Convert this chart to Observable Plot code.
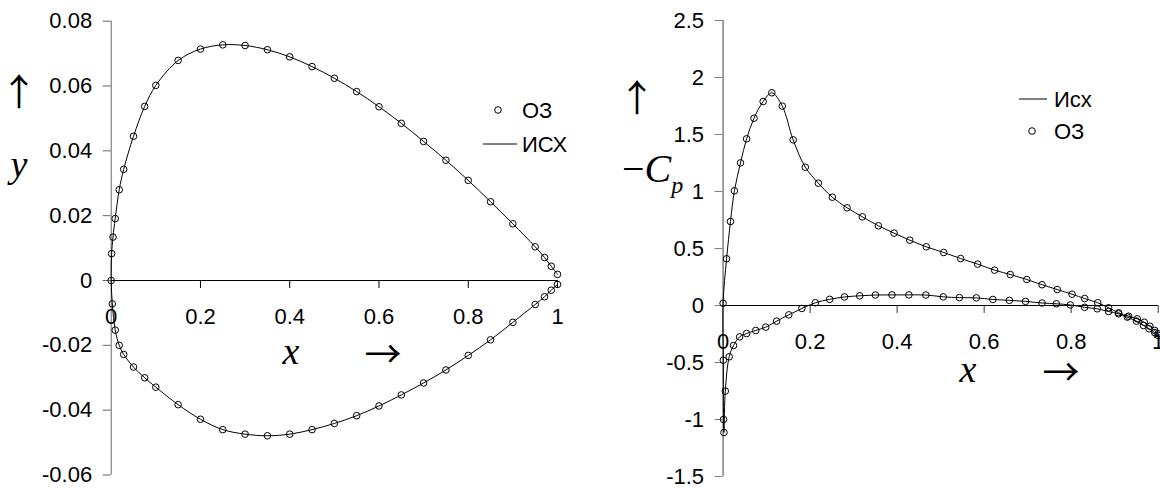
<!DOCTYPE html>
<html>
<head>
<meta charset="utf-8">
<script src="https://cdn.jsdelivr.net/npm/d3@7"></script>
<script src="https://cdn.jsdelivr.net/npm/@observablehq/plot@0.6"></script>
<style>
  html, body { margin: 0; padding: 0; background: #fff; }
  #wrap { position: relative; width: 1160px; height: 488px; overflow: hidden; background: #fff; }
  #wrap > svg, #wrap > figure { position: absolute; top: 0; margin: 0; }
</style>
</head>
<body>
<div id="wrap"></div>
<script>
// ---------- Left chart: airfoil contour (y vs x) ----------
const foilUpperX = [0, 0.001, 0.004, 0.009, 0.018, 0.028, 0.05, 0.075, 0.1, 0.15, 0.2, 0.25, 0.3, 0.35, 0.4, 0.45, 0.5, 0.55, 0.6, 0.65, 0.7, 0.75, 0.8, 0.85, 0.9, 0.95, 0.971, 0.986, 1.0];
const foilUpperY = [0, 0.0083, 0.0134, 0.0191, 0.0280, 0.0343, 0.0445, 0.0537, 0.0602, 0.0679, 0.0714, 0.0727, 0.0725, 0.0712, 0.0690, 0.0660, 0.0624, 0.0583, 0.0536, 0.0485, 0.0429, 0.0371, 0.0309, 0.0243, 0.0175, 0.0104, 0.0071, 0.0044, 0.0019];
const foilLowerX = [0.0025, 0.009, 0.018, 0.028, 0.05, 0.075, 0.1, 0.15, 0.2, 0.25, 0.3, 0.35, 0.4, 0.45, 0.5, 0.55, 0.6, 0.65, 0.7, 0.75, 0.8, 0.85, 0.9, 0.95, 0.971, 0.986, 1.0];
const foilLowerY = [-0.0072, -0.0153, -0.0200, -0.0228, -0.0267, -0.0300, -0.0329, -0.0383, -0.0428, -0.0460, -0.0474, -0.0479, -0.0474, -0.0460, -0.0441, -0.0417, -0.0387, -0.0353, -0.0316, -0.0276, -0.0231, -0.0183, -0.0129, -0.0074, -0.0050, -0.0030, -0.0012];
const leftXTicks = [0, 0.2, 0.4, 0.6, 0.8, 1];
const leftYTicks = [-0.06, -0.04, -0.02, 0, 0.02, 0.04, 0.06, 0.08];

// ---------- Right chart: -Cp vs x ----------
const cpUpperX = [0, 0.008, 0.017, 0.026, 0.040, 0.054, 0.071, 0.092, 0.112, 0.136, 0.161, 0.189, 0.219, 0.251, 0.285, 0.320, 0.357, 0.393, 0.429, 0.467, 0.507, 0.546, 0.585, 0.624, 0.660, 0.698, 0.733, 0.768, 0.802, 0.831, 0.861, 0.886, 0.909, 0.932, 0.952, 0.968, 0.981, 0.992, 1.0];
const cpUpperY = [0.02, 0.41, 0.737, 1.006, 1.251, 1.462, 1.643, 1.789, 1.866, 1.749, 1.453, 1.213, 1.073, 0.950, 0.857, 0.778, 0.699, 0.635, 0.573, 0.515, 0.465, 0.412, 0.363, 0.310, 0.272, 0.228, 0.182, 0.140, 0.099, 0.061, 0.024, -0.020, -0.064, -0.094, -0.117, -0.147, -0.182, -0.219, -0.248];
const cpLowerX = [0.0005, 0.001, 0.002, 0.005, 0.014, 0.024, 0.038, 0.054, 0.075, 0.098, 0.123, 0.151, 0.181, 0.212, 0.245, 0.279, 0.314, 0.350, 0.388, 0.427, 0.466, 0.506, 0.543, 0.582, 0.620, 0.658, 0.695, 0.733, 0.766, 0.798, 0.831, 0.860, 0.886, 0.909, 0.929, 0.950, 0.966, 0.979, 0.992, 1.0];
const cpLowerY = [-0.48, -1.0, -1.114, -0.751, -0.45, -0.351, -0.275, -0.246, -0.219, -0.19, -0.137, -0.082, -0.026, 0.024, 0.054, 0.075, 0.085, 0.092, 0.093, 0.093, 0.092, 0.076, 0.069, 0.067, 0.053, 0.045, 0.036, 0.022, 0.015, 0.005, -0.016, -0.029, -0.053, -0.073, -0.102, -0.137, -0.175, -0.204, -0.238, -0.263];
const rightXTicks = [0, 0.2, 0.4, 0.6, 0.8, 1];
const rightYTicks = [-1.5, -1, -0.5, 0, 0.5, 1, 1.5, 2, 2.5];

const legendLeft = ["ОЗ", "ИСХ"];
const legendRight = ["Исх", "ОЗ"];

// ---------- helpers ----------
const fmt = d => String(+d.toFixed(3));
const zip = (xs, ys) => xs.map((x, i) => ({x, y: ys[i]}));
const contour = (ux, uy, lx, ly) => zip(ux, uy).reverse().concat(zip(lx, ly));

const FONT = "'Liberation Sans', Arial, sans-serif";
const wrap = document.getElementById("wrap");

function chart({yDomain, yTicks, xTicks, line, points, ml, mr, mt, mb, yAxisColor, yAxisWidth, xTickColor}) {
  return Plot.plot({
    width: 580, height: 488,
    marginLeft: ml, marginRight: mr, marginTop: mt, marginBottom: mb,
    x: {domain: [0, 1], axis: null},
    y: {domain: yDomain, axis: null},
    style: {fontFamily: FONT, fontSize: "22px", background: "transparent", overflow: "visible", color: "black"},
    marks: [
      Plot.ruleX([0], {y1: yDomain[0], y2: yDomain[1], stroke: yAxisColor, strokeWidth: yAxisWidth}),
      Plot.axisY(yTicks, {anchor: "left", label: null, tickSize: 8, tickPadding: 11, tickFormat: fmt, stroke: yAxisColor, fill: "black", fontSize: 22}),
      Plot.ruleY([0], {x1: 0, x2: 1, stroke: "black", strokeWidth: 1.2}),
      Plot.ruleX(xTicks.filter(d => d > 0), {x: d => d, y1: 0, y2: 0, insetBottom: -8, stroke: xTickColor}),
      Plot.text(xTicks, {x: d => d, y: 0, dy: 36, text: fmt, fontSize: 22, fill: "black"}),
      Plot.line(line, {x: "x", y: "y", curve: "catmull-rom", stroke: "black", strokeWidth: 1}),
      Plot.dot(points, {x: "x", y: "y", r: 3.3, stroke: "black", fill: "none", strokeWidth: 1})
    ]
  });
}

const leftLine = contour(foilUpperX, foilUpperY, foilLowerX, foilLowerY);
const left = chart({
  yDomain: [-0.06, 0.08], yTicks: leftYTicks, xTicks: leftXTicks,
  line: leftLine, points: leftLine,
  ml: 110.7, mr: 23, mt: 20.7, mb: 13.5,
  yAxisColor: "#666", yAxisWidth: 1, xTickColor: "black"
});
left.style.left = "0px";
wrap.appendChild(left);

const rightLine = contour(cpUpperX, cpUpperY, cpLowerX, cpLowerY);
const right = chart({
  yDomain: [-1.5, 2.5], yTicks: rightYTicks, xTicks: rightXTicks,
  line: rightLine, points: rightLine,
  ml: 142.6, mr: 2.3, mt: 20, mb: 12,
  yAxisColor: "#808080", yAxisWidth: 1.5, xTickColor: "#333"
});
right.style.left = "580px";
wrap.appendChild(right);

// ---------- titles and legends overlay ----------
const ov = d3.select(wrap).append("svg")
  .attr("width", 1160).attr("height", 488)
  .style("position", "absolute").style("left", "0px").style("top", "0px")
  .style("pointer-events", "none");

const SERIF = "'Liberation Serif', 'Times New Roman', 'DejaVu Serif', serif";
const ARROW = "'Noto Sans CJK SC', 'Noto Sans CJK JP', 'DejaVu Serif', serif";
function t(x, y, s, o = {}) {
  return ov.append("text").attr("x", x).attr("y", y).text(s)
    .attr("font-family", o.family || SERIF)
    .attr("font-size", o.size || 38)
    .attr("font-style", o.italic ? "italic" : "normal")
    .attr("text-anchor", o.anchor || "middle")
    .attr("fill", "black");
}
// left axis titles
t(19, 106, "↑", {family: ARROW, size: 37});
t(19, 177, "y", {italic: true});
t(291, 364, "x", {italic: true});
t(383, 368, "→", {family: ARROW, size: 37});
// right axis titles
t(637, 112, "↑", {family: ARROW, size: 37});
const cp = ov.append("text").attr("x", 622).attr("y", 182)
  .attr("font-family", SERIF).attr("font-size", 40).attr("fill", "black");
cp.append("tspan").text("−");
cp.append("tspan").attr("font-style", "italic").text("C");
cp.append("tspan").attr("font-style", "italic").attr("font-size", 24).attr("dy", 11).text("p");
t(968, 382, "x", {italic: true});
t(1061, 386, "→", {family: ARROW, size: 37});

// left legend
ov.append("circle").attr("cx", 498).attr("cy", 110).attr("r", 3.3).attr("fill", "none").attr("stroke", "black");
t(522, 118, legendLeft[0], {family: FONT, size: 22, anchor: "start"});
ov.append("line").attr("x1", 483).attr("x2", 517).attr("y1", 144).attr("y2", 144).attr("stroke", "black");
t(522, 152, legendLeft[1], {family: FONT, size: 22, anchor: "start"});
// right legend
ov.append("line").attr("x1", 1019).attr("x2", 1047).attr("y1", 99).attr("y2", 99).attr("stroke", "black");
t(1054, 107, legendRight[0], {family: FONT, size: 22, anchor: "start"});
ov.append("circle").attr("cx", 1032).attr("cy", 131).attr("r", 3.3).attr("fill", "none").attr("stroke", "black");
t(1054, 139, legendRight[1], {family: FONT, size: 22, anchor: "start"});
</script>
</body>
</html>
